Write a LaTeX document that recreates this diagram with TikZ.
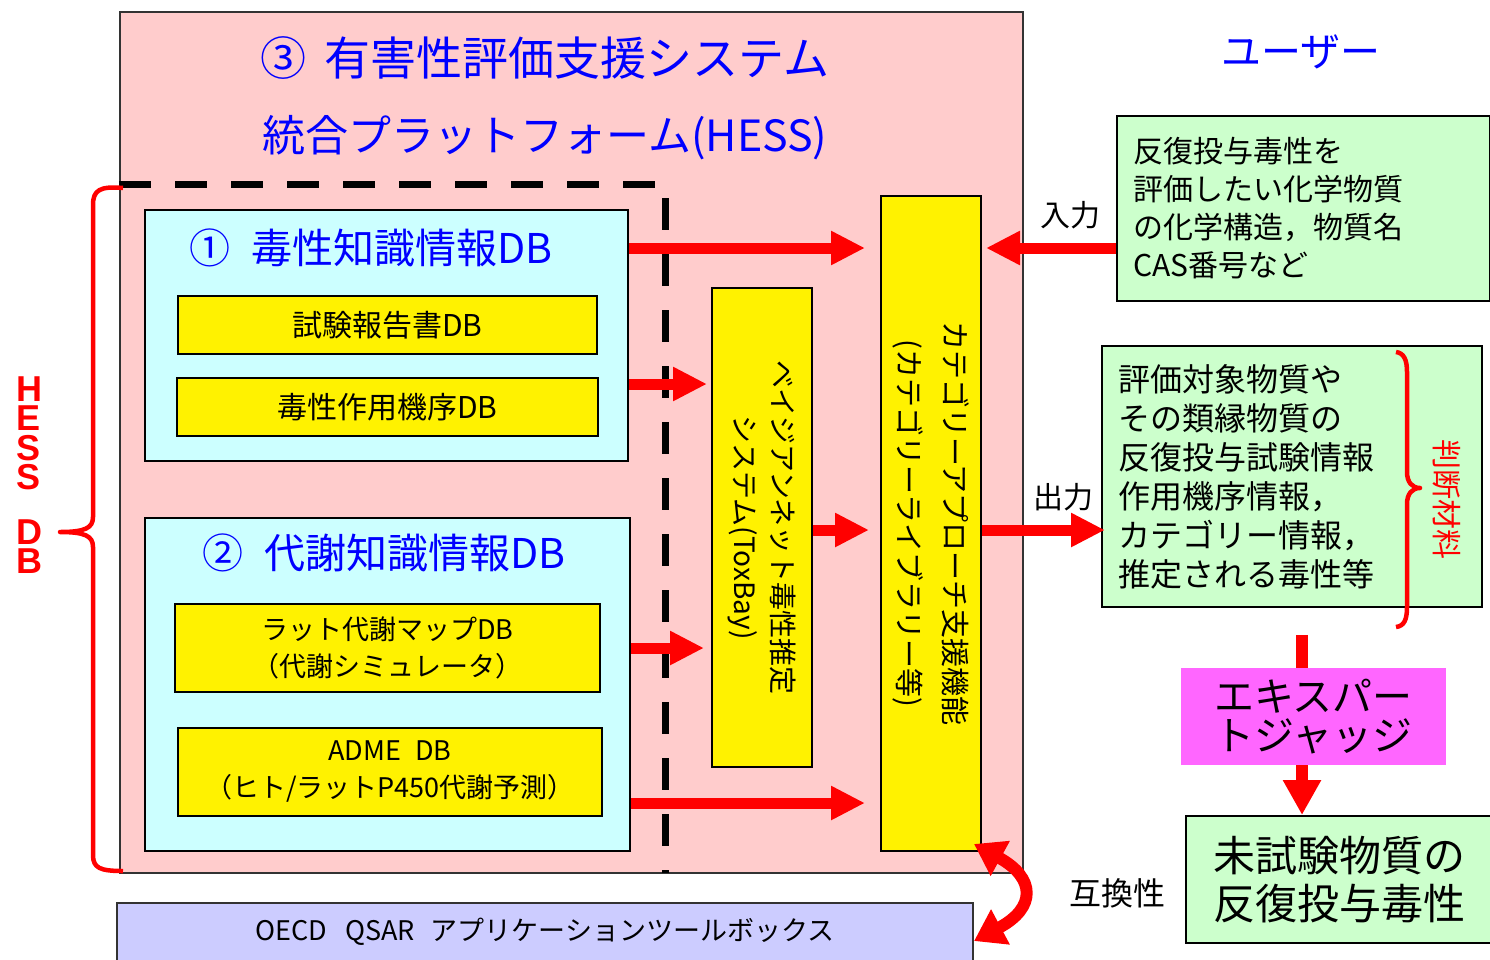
\documentclass[tikz,border=0pt]{standalone}
\usepackage{fontspec}
\setmainfont{Noto Sans CJK JP}
\newfontfamily\latinbold{Liberation Sans}
\usetikzlibrary{arrows.meta,calc}
\definecolor{pinkbg}{HTML}{FFCCCC}
\definecolor{cyanbg}{HTML}{CCFFFF}
\definecolor{greenbg}{HTML}{CCFFCC}
\definecolor{magbg}{HTML}{FF66FF}
\definecolor{lavbg}{HTML}{CCCCFF}
\definecolor{outline}{HTML}{333333}
\definecolor{ttlblue}{HTML}{0000FF}
\newcommand\myfs[2]{\fontsize{#1}{#2}\selectfont}
\tikzset{
  panel/.style={draw=outline, line width=2pt, inner sep=0pt},
  ybox/.style={draw=black, line width=2pt, fill=yellow, inner sep=0pt, align=center, font=\myfs{28}{37}},
  gbox/.style={draw=black, line width=2pt, fill=greenbg, inner xsep=16pt, inner ysep=0pt, align=left},
  ttl/.style={text=ttlblue, inner sep=0pt},
  lbl/.style={inner sep=0pt, font=\myfs{30}{34}},
  vtext/.style={rotate=-90, inner sep=0pt, align=center},
  redarrow/.style={draw=red, line width=11pt, -{Triangle[length=34pt,width=32pt]}},
  redline/.style={draw=red, line width=12pt},
  dblarrow/.style={draw=red, line width=12pt, {Triangle[length=30pt,width=38pt]}-{Triangle[length=30pt,width=38pt]}},
  bracestyle/.style={draw=red, line width=4.5pt, line join=round},
  dashline/.style={draw=black, line width=7pt, dash pattern=on 32pt off 24pt}
}
\begin{document}
\begin{tikzpicture}[x=1pt,y=-1pt]
\useasboundingbox (0,0) rectangle (1490,959);

% outer HESS system panel
\node[panel, fill=pinkbg, minimum width=903pt, minimum height=861pt] (hess) at (571.5,442.5) {};
\node[ttl, font=\myfs{46}{50}] (t3) at (545,58) {③\hspace{0.4em}有害性評価支援システム};
\node[ttl, font=\myfs{43}{48}] (tp) at (545,138) {統合プラットフォーム(HESS)};

% dashed boundary
\draw[dashline] (hess.west |- 0,184) -- (665,184) -- (665,873);

% DB 1
\node[panel, draw=black, fill=cyanbg, minimum width=483pt, minimum height=251pt] (db1) at (386.5,335.5) {};
\node[ttl, font=\myfs{41}{46}] (t1) at (371,248) {①\hspace{0.5em}毒性知識情報DB};
\node[ybox, font=\myfs{30}{37}, minimum width=419pt, minimum height=58pt] (rep) at (387.5,325) {試験報告書DB};
\node[ybox, font=\myfs{30}{37}, minimum width=421pt, minimum height=58pt] (moa) at (387.5,407) {毒性作用機序DB};

% DB 2
\node[panel, draw=black, fill=cyanbg, minimum width=485pt, minimum height=333pt] (db2) at (387.5,684.5) {};
\node[ttl, font=\myfs{41}{46}] (t2) at (384,553) {②\hspace{0.5em}代謝知識情報DB};
\node[ybox, font=\myfs{27}{37}, minimum width=425pt, minimum height=88pt] (rat) at (387.5,648) {ラット代謝マップDB\\（代謝シミュレータ）};
\node[ybox, font=\myfs{27}{37}, minimum width=424pt, minimum height=88pt] (adme) at (390,772) {ADME\hspace{14pt}DB\\（ヒト/ラットP450代謝予測）};

% ToxBay and category boxes
\node[draw=black, line width=2pt, fill=yellow, minimum width=100pt, minimum height=479pt, inner sep=0pt] (tox) at (762,527.5) {};
\node[vtext, font=\myfs{28}{38}] (toxt) at (tox.center) {ベイジアンネット毒性推定\\システム(ToxBay)};
\node[draw=black, line width=2pt, fill=yellow, minimum width=100pt, minimum height=655pt, inner sep=0pt] (cat) at (931,523.5) {};
\node[vtext, font=\myfs{29}{46}] (catt) at (cat.center) {カテゴリーアプローチ支援機能\\(カテゴリーライブラリー等)};

% OECD toolbox
\node[panel, fill=lavbg, minimum width=856pt, minimum height=63pt] (oecd) at (545,934.5) {};
\node[inner sep=0pt, font=\myfs{27}{30}] (oecdt) at (545,932) {OECD\hspace{18pt}QSAR\hspace{16pt}アプリケーションツールボックス};

% user side
\node[ttl, font=\myfs{40}{44}] (user) at (1301,52) {ユーザー};
\node[gbox, font=\myfs{30}{38}, text width=341pt, minimum height=185pt] (inp) at (1303.5,208.5) {反復投与毒性を\\評価したい化学物質\\の化学構造，物質名\\CAS番号など};
\node[gbox, font=\myfs{32}{39}, text width=348pt, minimum height=261pt] (outp) at (1292,476.5) {評価対象物質や\\その類縁物質の\\反復投与試験情報\\作用機序情報，\\カテゴリー情報，\\推定される毒性等};
\node[lbl] (inl) at (1070,215) {入力};
\node[lbl] (outl) at (1063,497) {出力};
\node[fill=magbg, minimum width=265pt, minimum height=97pt, inner sep=0pt, align=center, font=\myfs{40}{39}] (exp) at (1313.5,716.5) {エキスパー\\トジャッジ};
\node[gbox, inner xsep=0pt, align=center, minimum width=306pt, minimum height=127pt, font=\myfs{42}{48}] (fin) at (1339,879.5) {未試験物質の\\反復投与毒性};
\node[lbl, font=\myfs{32}{34}] (compat) at (1117,893) {互換性};
\node[vtext, text=red, font=\myfs{30}{34}] (judge) at (1447,499) {判断材料};

% HESS DB label
\node[inner sep=0pt, align=center, text=red, font=\latinbold\bfseries\myfs{36}{29.5}] (hdb) at (29,475) {H\\E\\S\\S\\[25pt]D\\B};

% helper coordinates
\coordinate (ya) at (0,248);
\coordinate (yb) at (0,384);
\coordinate (yc) at (0,648);
\coordinate (yd) at (0,803);
\coordinate (ye) at (0,530);
\coordinate (xe) at (1302,0);

% arrows
\draw[redarrow] (db1.east |- ya) -- ($(cat.west |- ya)+(-15,0)$);
\draw[redarrow] (db1.east |- yb) -- ($(tox.west |- yb)+(-4,0)$);
\draw[redarrow] (db2.east |- yc) -- ($(tox.west |- yc)+(-7,0)$);
\draw[redarrow] (db2.east |- yd) -- ($(cat.west |- yd)+(-15,0)$);
\draw[redarrow] (tox.east |- ye) -- ($(cat.west |- ye)+(-11,0)$);
\draw[redarrow] (cat.east |- ye) -- ($(outp.west |- ye)+(4,0)$);
\draw[redarrow] (inp.west |- ya) -- ($(cat.east |- ya)+(4,0)$);
\draw[redline] ($(exp.north -| xe)+(0,-33)$) -- (exp.north -| xe);
\draw[redarrow, line width=12pt, -{Triangle[length=35pt,width=36pt]}] (exp.south -| xe) -- (fin.north -| xe);
\draw[dblarrow] ($(cat.south east)+(-8,-8)$) .. controls (1036,878) and (1036,908) .. ($(oecd.north east)+(0,39)$);

% braces
\draw[bracestyle] (123,188) .. controls (100,186) and (93,190) .. (93,205) -- (93,517)
  .. controls (93,528) and (85,532) .. (60,532)
  .. controls (85,532) and (93,536) .. (93,547) -- (93,855)
  .. controls (93,868) and (100,871) .. (123,871);
\draw[bracestyle] (1396,352) .. controls (1404,353) and (1407,360) .. (1407,372) -- (1407,472)
  .. controls (1407,482) and (1412,488) .. (1420,488)
  .. controls (1412,488) and (1407,494) .. (1407,504) -- (1407,607)
  .. controls (1407,620) and (1404,626) .. (1396,627);
\end{tikzpicture}
\end{document}
